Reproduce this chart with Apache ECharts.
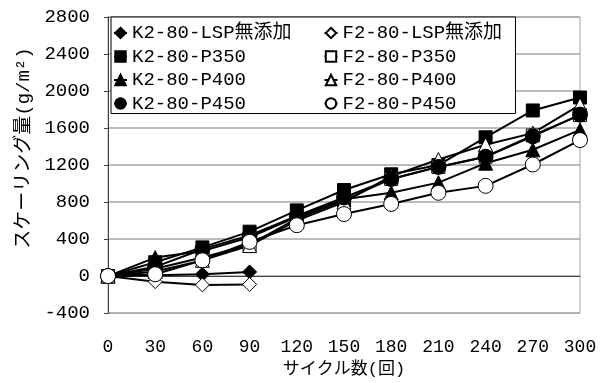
<!DOCTYPE html>
<html>
<head>
<meta charset="utf-8">
<script src="https://cdn.jsdelivr.net/npm/echarts@6/dist/echarts.min.js"></script>
<style>
html,body{margin:0;padding:0;background:#fff;}
#chart{width:608px;height:383px;}
</style>
</head>
<body>
<div id="chart"></div>
<script>
const cycles = ['0','30','60','90','120','150','180','210','240','270','300'];
const yTicks = [-400, 0, 400, 800, 1200, 1600, 2000, 2400, 2800];

const kLSP  = [0, 10, 20, 45, null, null, null, null, null, null, null];
const fLSP  = [0, -60, -95, -90, null, null, null, null, null, null, null];
const kP350 = [0, 150, 310, 480, 710, 930, 1100, 1200, 1500, 1790, 1930];
const fP350 = [0, 80, 200, 340, 620, 820, 1050, 1180, 1290, 1520, 1740];
const kP400 = [0, 200, 270, 420, 640, 830, 900, 1010, 1220, 1365, 1580];
const fP400 = [0, 50, 170, 330, 600, 800, 1080, 1260, 1420, 1545, 1850];
const kP450 = [0, 100, 290, 440, 650, 850, 1050, 1180, 1290, 1510, 1745];
const fP450 = [0, 20, 170, 370, 550, 670, 780, 900, 975, 1206, 1470];

const names = {
  kLSP: 'K2-80-LSP無添加', fLSP: 'F2-80-LSP無添加',
  kP350: 'K2-80-P350', fP350: 'F2-80-P350',
  kP400: 'K2-80-P400', fP400: 'F2-80-P400',
  kP450: 'K2-80-P450', fP450: 'F2-80-P450'
};
const legendOrder = [names.kLSP, names.fLSP, names.kP350, names.fP350,
                     names.kP400, names.fP400, names.kP450, names.fP450];

const FONT = "'Liberation Mono', 'DejaVu Sans Mono', 'Noto Sans CJK JP', monospace";

function mk(name, data, symbol, size, filled) {
  return {
    name: name,
    type: 'line',
    data: data,
    symbol: symbol,
    symbolSize: size,
    showAllSymbol: true,
    connectNulls: false,
    color: '#000',
    lineStyle: { color: '#000', width: 2 },
    itemStyle: filled ? { color: '#000', borderColor: '#000', borderWidth: 1 }
                      : { color: '#fff', borderColor: '#000', borderWidth: 1 },
    emphasis: { disabled: true },
    animation: false
  };
}

const series = [
  mk(names.kLSP, kLSP, 'diamond', 14, true),
  mk(names.fLSP, fLSP, 'diamond', 14, false),
  mk(names.kP350, kP350, 'rect', 13, true),
  mk(names.fP350, fP350, 'rect', 13, false),
  mk(names.kP400, kP400, 'triangle', 14, true),
  mk(names.fP400, fP400, 'triangle', 14, false),
  mk(names.kP450, kP450, 'circle', 15, true),
  mk(names.fP450, fP450, 'circle', 15, false)
];

const legendData = legendOrder.map(function (n, i) {
  return { name: n, textStyle: { width: (i % 2 === 0) ? 188 : 171 } };
});

const chart = echarts.init(document.getElementById('chart'), null, { renderer: 'canvas' });
chart.setOption({
  animation: false,
  backgroundColor: '#fff',
  grid: { left: 108, right: 28, top: 17, bottom: 65, show: true, borderColor: '#a6a6a6', borderWidth: 1 },
  xAxis: {
    type: 'category',
    data: cycles,
    boundaryGap: false,
    name: 'サイクル数(回)',
    nameLocation: 'middle',
    nameGap: 41,
    nameTextStyle: { fontSize: 17, fontFamily: FONT, color: '#000' },
    axisLine: { lineStyle: { color: '#404040', width: 1 } },
    axisTick: { show: false },
    axisLabel: { fontSize: 18, fontFamily: FONT, color: '#000', margin: 25 },
    splitLine: { show: false }
  },
  yAxis: {
    type: 'value',
    min: yTicks[0],
    max: yTicks[yTicks.length - 1],
    interval: 400,
    name: 'スケーリング量(g/m²)',
    nameLocation: 'middle',
    nameGap: 70,
    nameRotate: 90,
    nameTextStyle: { fontSize: 19, fontFamily: FONT, color: '#000', padding: [0, 0, 0, 34] },
    axisLine: { show: true, lineStyle: { color: '#404040', width: 1 } },
    axisTick: { show: true, length: 4, lineStyle: { color: '#404040' } },
    axisLabel: { fontSize: 19, fontFamily: FONT, color: '#000', margin: 18,
                 formatter: function (v) { return String(v); } },
    splitLine: { show: true, lineStyle: { color: '#a6a6a6', width: 1.5 } }
  },
  legend: {
    orient: 'horizontal',
    left: 111,
    top: 17,
    width: 410,
    padding: [6, 2, 0, 2],
    itemGap: 3.5,
    itemWidth: 13,
    itemHeight: 13,
    selectedMode: false,
    backgroundColor: '#fff',
    borderColor: '#000',
    borderWidth: 1,
    z: 10,
    textStyle: { fontSize: 19, fontFamily: FONT, color: '#000', lineHeight: 20 },
    data: legendData
  },
  series: series
});
</script>
</body>
</html>
